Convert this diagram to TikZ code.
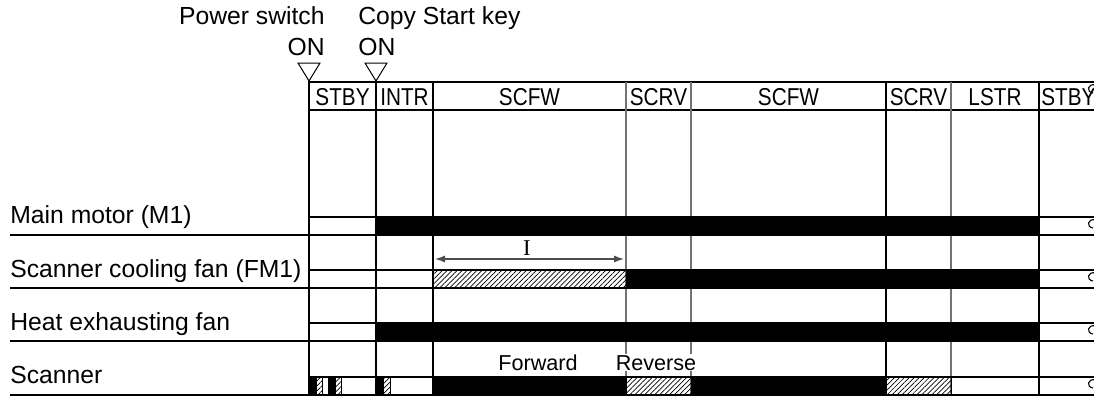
\documentclass[tikz,border=0pt]{standalone}
\usepackage{fontspec}
\setmainfont{Liberation Sans}
\newfontfamily\hdrfont[FakeStretch=0.85]{Liberation Sans}
\newfontfamily\serifI{Liberation Serif}
\usetikzlibrary{arrows.meta,patterns.meta}
\definecolor{GridGray}{gray}{0.45}
\definecolor{DimArrow}{gray}{0.3}

\begin{document}
\begin{tikzpicture}[x=.5pt,y=-.5pt,
    lbl/.style={font=\fontsize{12.35}{14}\selectfont,inner sep=0pt},
    hdr/.style={font=\hdrfont\fontsize{12.2}{14}\selectfont,inner sep=0pt,anchor=base},
    sig/.style={font=\fontsize{10.8}{12}\selectfont,inner sep=.6pt,anchor=base,fill=white},
    rule/.style={line width=.75pt},
    onbar/.style={fill=black},
    hatchbar/.style={draw,line width=.5pt,pattern={Lines[angle=45,distance=1.75pt,line width=.35pt]}},
    brk/.style={line width=.55pt}]
  \useasboundingbox (0,0) rectangle (1094,396);
  \clip (0,0) rectangle (1094,396);

  \draw[rule] (309,82)--(1100,82) (309,110)--(1100,110);
  \draw[rule] (309,80)--(309,395) (376,82)--(376,395) (433,82)--(433,395)
    (886,82)--(886,395) (1039,82)--(1039,395);
  \draw[rule,GridGray] (626,82)--(626,395) (691,82)--(691,395) (951,82)--(951,395);
  \draw[rule] (309,217)--(1100,217) (309,270)--(1100,270)
    (309,323)--(1100,323) (309,377)--(1100,377);
  \draw[rule] (10,235)--(1100,235) (10,288)--(1100,288)
    (10,341)--(1100,341) (10,395)--(1100,395);

  \fill[onbar] (376,217) rectangle (1039,235);
  \draw[hatchbar] (433,270) rectangle (626,288);
  \fill[onbar] (626,270) rectangle (1039,288);
  \fill[onbar] (376,323) rectangle (1039,341);
  \fill[onbar] (309,377) rectangle (316,395);
  \draw[hatchbar] (316,377) rectangle (322.7,395);
  \fill[onbar] (328.3,377) rectangle (335,395);
  \draw[hatchbar] (335,377) rectangle (341.7,395);
  \fill[onbar] (376,377) rectangle (383.3,395);
  \draw[hatchbar] (383.3,377) rectangle (390,395);
  \fill[onbar] (433,377) rectangle (626,395);
  \draw[hatchbar] (626,377) rectangle (691,395);
  \fill[onbar] (691,377) rectangle (886,395);
  \draw[hatchbar] (886,377) rectangle (951,395);

  \draw[line width=.5pt,fill=white] (298,63)--(320,63)--(309,81)--cycle;
  \draw[line width=.5pt,fill=white] (365,63)--(387,63)--(376,81)--cycle;
  \node[lbl,anchor=base east] (pwr) at (325,25) {Power switch};
  \node[lbl,anchor=base east] (pwron) at (325,55) {ON};
  \node[lbl,anchor=base west] (cpy) at (358,25) {Copy Start key};
  \node[lbl,anchor=base west] (cpyon) at (358,55) {ON};

  \node[hdr] (hstby) at (342.5,105) {STBY};
  \node[hdr] (hintr) at (404.5,105) {INTR};
  \node[hdr] (hfwa) at (529.5,105) {SCFW};
  \node[hdr] (hrva) at (658.5,105) {SCRV};
  \node[hdr] (hfwb) at (788.5,105) {SCFW};
  \node[hdr] (hrvb) at (918.5,105) {SCRV};
  \node[hdr] (hlstr) at (995,105) {LSTR};
  \node[hdr,anchor=base west] (hstbyb) at (1041,105) {STBY};

  \node[lbl,anchor=base west] (mm) at (10,223) {Main motor (M1)};
  \node[lbl,anchor=base west] (scf) at (10,277) {Scanner cooling fan (FM1)};
  \node[lbl,anchor=base west] (hef) at (10,330) {Heat exhausting fan};
  \node[lbl,anchor=base west] (scn) at (10,383) {Scanner};

  \coordinate (ia) at (435,259);
  \coordinate (ib) at (624,259);
  \draw[DimArrow,line width=.6pt,{Latex[length=5pt,width=3.5pt]}-{Latex[length=5pt,width=3.5pt]}] (ia) -- (ib);
  \node[font=\serifI\fontsize{11.3}{13}\selectfont,inner sep=0pt,anchor=base] (ilbl) at (527,255) {I};

  \node[sig] (fwd) at (538,370) {Forward};
  \node[sig] (rev) at (656,370) {Reverse};

  \draw[brk] (1096,85) .. controls (1087,83) and (1086,92) .. (1093,93);
  \draw[brk] (1096,220) .. controls (1087,218) and (1086,227) .. (1093,228);
  \draw[brk] (1096,273) .. controls (1087,271) and (1086,280) .. (1093,281);
  \draw[brk] (1096,326) .. controls (1087,324) and (1086,333) .. (1093,334);
  \draw[brk] (1096,380) .. controls (1087,378) and (1086,387) .. (1093,388);
\end{tikzpicture}
\end{document}
